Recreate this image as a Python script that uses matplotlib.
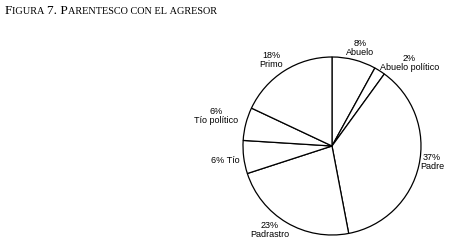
import numpy as np
import matplotlib.pyplot as plt

# data (clockwise from 12 o'clock)
categorias = ['Abuelo', 'Abuelo político', 'Padre', 'Padrastro', 'Tío', 'Tío político', 'Primo']
porcentajes = [8, 2, 37, 23, 6, 6, 18]
titulo = 'Figura 7. Parentesco con el agresor'

fig = plt.figure(figsize=(4.55, 2.51), dpi=100)
W, H = 455, 251
cx, cy, r = 332, 147, 89
ax = fig.add_axes([(cx - r) / W, (H - cy - r) / H, 2 * r / W, 2 * r / H])
wedges, _ = ax.pie(porcentajes, startangle=90, counterclock=False,
                   colors=['white'] * len(porcentajes),
                   wedgeprops=dict(edgecolor='black', linewidth=0.9))
ax.set_xlim(-1, 1)
ax.set_ylim(-1, 1)
ax.set_aspect('equal')
ax.axis('off')

# label placement: radial distance and nudges per wedge, text layout
dist = [1.15, 1.12, 1.14, 1.14, 1.18, 1.22, 1.15]
nudge_x = [0.03, 0.27, 0.01, -0.12, -0.03, -0.12, -0.07]
nudge_y = [0.0, 0.0, 0.08, 0.05, 0.0, 0.04, 0.01]
one_line = [False, False, False, False, True, False, False]
for w, cat, p, d, dx, dy, ol in zip(wedges, categorias, porcentajes, dist,
                                    nudge_x, nudge_y, one_line):
    ang = np.deg2rad((w.theta1 + w.theta2) / 2)
    x = d * np.cos(ang) + dx
    y = d * np.sin(ang) + dy
    txt = f'{p}% {cat}' if ol else f'{p}%\n{cat}'
    ax.text(x, y, txt, ha='center', va='center', fontsize=6.5,
            family='Liberation Sans', linespacing=1.0, clip_on=False)

# title in small caps: split into runs of big / small letters
runs = []
for ch in titulo:
    big = ch.isupper() or ch.isdigit() or ch == '.'
    if ch == ' ':
        big = runs[-1][1] if runs else True
    if runs and runs[-1][1] == big:
        runs[-1][0] += ch
    else:
        runs.append([ch, big])

renderer = fig.canvas.get_renderer()
xpos = 5 / W
ypos = 1 - 14.5 / H
for s, big in runs:
    t = fig.text(xpos, ypos, s.upper().replace(' ', '\u00a0'),
                 fontsize=9.6 if big else 7.4, family='Liberation Serif',
                 ha='left', va='baseline')
    xpos += t.get_window_extent(renderer).width / W

fig.savefig('out.png', dpi=100)
